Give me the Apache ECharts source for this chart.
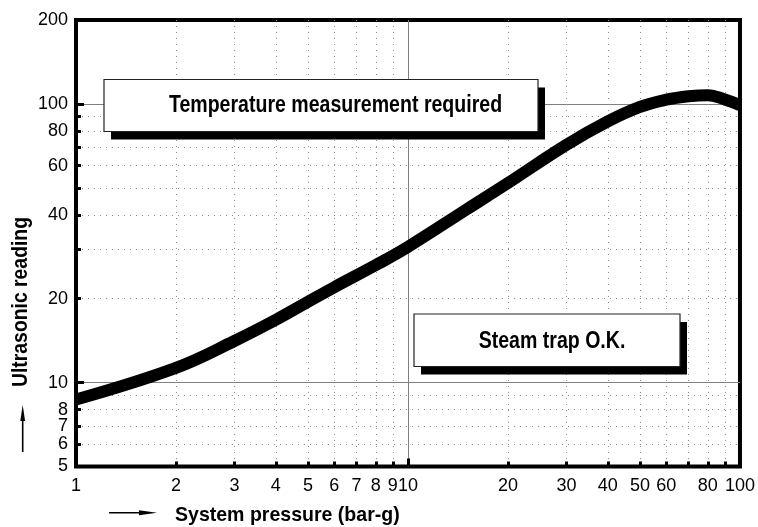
<!DOCTYPE html>
<html>
<head>
<meta charset="utf-8">
<title>Ultrasonic reading vs system pressure</title>
<script src="https://cdn.jsdelivr.net/npm/echarts@6/dist/echarts.min.js"></script>
<style>
  html, body { margin: 0; padding: 0; background: #ffffff; }
  #chart { width: 758px; height: 527px; }
</style>
</head>
<body>
<div id="chart"></div>
<script>
// Characteristic curve: ultrasonic reading against system pressure (log-log)
const pressure = [1, 2, 3, 4, 5, 6, 8, 10, 15, 20, 30, 40, 50, 60, 70, 80, 90, 100];
const reading  = [8.7, 11.3, 14.1, 16.8, 19.5, 22.0, 26.4, 30.7, 41.8, 52, 71.3, 86.5, 97.5, 103.5, 106.5, 107.5, 103.7, 99];

// Axis ticks and labels
const xLabelValues = [1, 2, 3, 4, 5, 6, 7, 8, 9, 10, 20, 30, 40, 50, 60, 80, 100];
const xMinorValues = [2, 3, 4, 5, 6, 7, 8, 9, 20, 30, 40, 50, 60, 70, 80, 90];
const xMajorValues = [10];
const yLabelValues = [5, 6, 7, 8, 10, 20, 40, 60, 80, 100, 200];
const yMinorValues = [6, 7, 8, 9, 20, 30, 40, 50, 60, 70, 80, 90];
const yMajorValues = [10, 100];

// Texts
const xTitle = 'System pressure (bar-g)';
const yTitle = 'Ultrasonic reading';
const upperNote = 'Temperature measurement required';
const lowerNote = 'Steam trap O.K.';

const BOLD = '"Liberation Sans", Arial, Helvetica, sans-serif';
const REGULAR = '"Liberation Sans", Arial, Helvetica, sans-serif';

const chart = echarts.init(document.getElementById('chart'), null, { renderer: 'canvas' });

const dotted = { color: '#8c8c8c', width: 1, type: [1, 5] };
const solid = { color: '#808080', width: 1, type: 'solid' };

function logAxis(extra) {
  return Object.assign({
    type: 'log',
    logBase: 10,
    axisLine: { show: false },
    minorTick: { show: false },
    minorSplitLine: { show: false }
  }, extra);
}

const xAxes = [
  logAxis({
    min: 1, max: 100, position: 'bottom',
    axisTick: { show: true, inside: true, length: 5, customValues: xMinorValues, lineStyle: { color: '#000', width: 3 } },
    axisLabel: { show: true, customValues: xLabelValues, margin: 11, color: '#000', fontSize: 18, fontFamily: REGULAR },
    splitLine: { show: true, lineStyle: dotted }
  }),
  logAxis({
    min: 1, max: 100, position: 'bottom',
    axisTick: { show: true, inside: true, length: 8, customValues: xMajorValues, lineStyle: { color: '#000', width: 3 } },
    axisLabel: { show: false, customValues: xMajorValues },
    splitLine: { show: true, lineStyle: solid }
  })
];

const yAxes = [
  logAxis({
    min: 5, max: 200, position: 'left',
    axisTick: { show: true, inside: true, length: 5, customValues: yMinorValues, lineStyle: { color: '#000', width: 3 } },
    axisLabel: { show: true, customValues: yLabelValues, margin: 8, color: '#000', fontSize: 18, fontFamily: REGULAR },
    splitLine: { show: true, lineStyle: dotted }
  }),
  logAxis({
    min: 5, max: 200, position: 'left',
    axisTick: { show: true, inside: true, length: 8, customValues: yMajorValues, lineStyle: { color: '#000', width: 3 } },
    axisLabel: { show: false, customValues: yMajorValues },
    splitLine: { show: true, lineStyle: solid }
  })
];

// Bold condensed caption: regular bold face squeezed horizontally
function caption(text, x, y, size, squeeze, align, rotation) {
  return {
    type: 'text', x: x, y: y, z: 110, rotation: rotation || 0, scaleX: squeeze,
    style: { text: text, font: 'bold ' + size + 'px ' + BOLD, fill: '#000', align: align, verticalAlign: 'middle' }
  };
}

// Boxed note with a solid drop shadow
function noteBox(x, y, w, h, text, tx, ty) {
  return [
    { type: 'rect', z: 100, shape: { x: x + 7, y: y + 8, width: w, height: h }, style: { fill: '#000' } },
    { type: 'rect', z: 101, shape: { x: x, y: y, width: w, height: h }, style: { fill: '#fff', stroke: '#222', lineWidth: 1.2 } },
    caption(text, tx, ty, 23, 0.85, 'center')
  ];
}

const option = {
  animation: false,
  backgroundColor: '#ffffff',
  grid: {
    show: true,
    left: 76, right: 14.3, top: 20, bottom: 60.5,
    borderColor: '#000', borderWidth: 4,
    backgroundColor: 'transparent',
    containLabel: false
  },
  xAxis: xAxes,
  yAxis: yAxes,
  series: [{
    type: 'line',
    name: yTitle,
    xAxisIndex: 0,
    yAxisIndex: 0,
    data: pressure.map((p, i) => [p, reading[i]]),
    showSymbol: false,
    symbol: 'none',
    smooth: 0.4,
    clip: true,
    z: 5,
    lineStyle: { color: '#000', width: 12, cap: 'butt', join: 'round' }
  }],
  graphic: [].concat(
    noteBox(104, 79.5, 434, 52, upperNote, 335.5, 105.5),
    noteBox(414, 314, 266, 52.5, lowerNote, 552, 342),
    [
      // vertical axis title with upward arrow
      caption(yTitle, 21, 302, 22, 0.88, 'center', Math.PI / 2),
      { type: 'line', z: 100, shape: { x1: 22.7, y1: 452, x2: 22.7, y2: 418 }, style: { stroke: '#000', lineWidth: 1.6 } },
      { type: 'polygon', z: 100, shape: { points: [[22.7, 405], [20.3, 421], [25.1, 421]] }, style: { fill: '#000' } },
      // horizontal axis title with rightward arrow
      caption(xTitle, 175, 515, 21, 0.93, 'left'),
      { type: 'line', z: 100, shape: { x1: 109, y1: 512.7, x2: 142, y2: 512.7 }, style: { stroke: '#000', lineWidth: 1.6 } },
      { type: 'polygon', z: 100, shape: { points: [[157, 512.7], [139, 510.2], [139, 515.2]] }, style: { fill: '#000' } }
    ]
  )
};

chart.setOption(option);
</script>
</body>
</html>
